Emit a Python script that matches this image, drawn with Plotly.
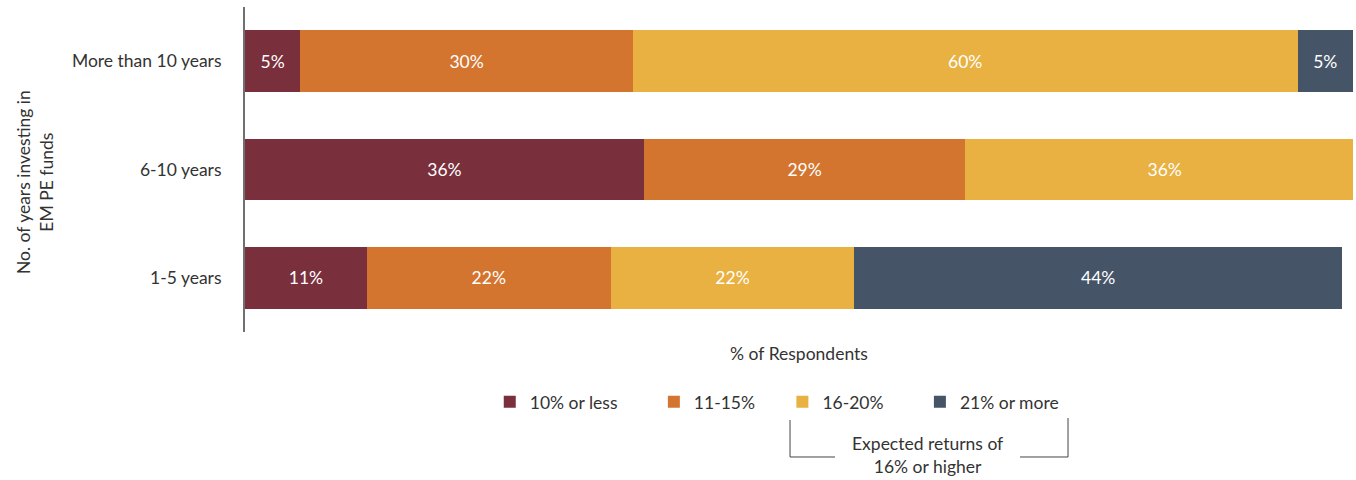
import plotly.graph_objects as go

# Investor tenure groups (bottom to top on the chart)
categories = ["1-5 years", "6-10 years", "More than 10 years"]

# Share of respondents by expected return band, per tenure group
series_names = ["10% or less", "11-15%", "16-20%", "21% or more"]
ten_or_less = [11, 36, 5]
eleven_to_15 = [22, 29, 30]
sixteen_to_20 = [22, 36, 60]
twentyone_plus = [44, 0, 5]

colors = ["#7A2F3C", "#D4752F", "#E8B142", "#455567"]
FONT = "Lato"
FS = 17.5
TEXT = "#333333"
# extra room after each legend entry (non-breaking spaces)
pads = [7, 5, 7, 0]

fig = go.Figure()
for name, vals, col, pad in zip(series_names,
                                [ten_or_less, eleven_to_15, sixteen_to_20, twentyone_plus],
                                colors, pads):
    fig.add_trace(go.Bar(
        name=name + "\u00a0" * pad,
        y=categories,
        x=vals,
        orientation="h",
        marker=dict(color=col, line=dict(width=0)),
        text=[f"{v}%" if v else "" for v in vals],
        textposition="inside",
        insidetextanchor="middle",
        textfont=dict(color="white", size=FS, family=FONT),
        hoverinfo="skip",
    ))

fig.update_layout(
    barmode="stack",
    bargap=0.43,
    width=1356,
    height=480,
    margin=dict(l=245, r=3, t=7, b=148),
    plot_bgcolor="white",
    paper_bgcolor="white",
    font=dict(family=FONT, size=FS, color=TEXT),
    legend=dict(
        orientation="h",
        x=0.2209, xanchor="left",
        y=-0.215, yanchor="middle",
        font=dict(size=FS, color=TEXT, family=FONT),
        traceorder="normal",
        itemclick=False,
    ),
    xaxis=dict(
        range=[0, 100],
        showticklabels=False,
        showgrid=False,
        zeroline=False,
        showline=False,
        ticks="",
        title=dict(text="% of Respondents", font=dict(size=FS, color=TEXT), standoff=15),
        fixedrange=True,
    ),
    yaxis=dict(
        showgrid=False,
        zeroline=False,
        showline=True,
        linecolor="#707070",
        linewidth=2,
        ticks="",
        ticklabelstandoff=18,
        tickfont=dict(size=FS, color=TEXT),
        fixedrange=True,
    ),
)

# Vertical axis caption, set a little below the plot's midline
fig.add_annotation(
    xref="paper", yref="paper", x=-0.1895, y=0.4615,
    text="No. of years investing in<br>EM PE funds",
    textangle=-90, showarrow=False,
    font=dict(size=FS, color=TEXT, family=FONT),
    xanchor="center", yanchor="middle",
)

# Bracket grouping the two upper return bands
line_style = dict(color="#444444", width=1)
for x0, y0, x1, y1 in [(0.4919, -0.2646, 0.4919, -0.3846),
                       (0.7428, -0.2646, 0.7428, -0.3846),
                       (0.4919, -0.3846, 0.5325, -0.3846),
                       (0.6995, -0.3846, 0.7428, -0.3846)]:
    fig.add_shape(type="line", xref="paper", yref="paper",
                  x0=x0, y0=y0, x1=x1, y1=y1, line=line_style)

fig.add_annotation(
    xref="paper", yref="paper", x=0.6164, y=-0.378,
    text="Expected returns of<br>16% or higher",
    showarrow=False, font=dict(size=FS, color=TEXT, family=FONT),
    xanchor="center", yanchor="middle",
)

fig.write_html("out.html")
